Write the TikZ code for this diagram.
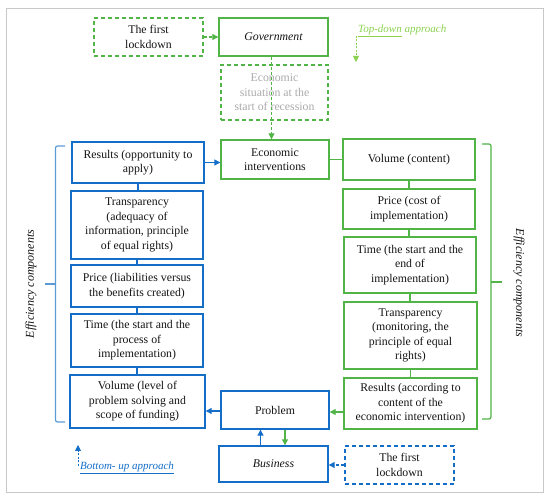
\documentclass[tikz,border=0pt]{standalone}
\usepackage{fontspec}
\setmainfont{Liberation Serif}
\usetikzlibrary{arrows.meta}
\definecolor{gr}{RGB}{80,180,70}
\definecolor{lgr}{RGB}{140,210,80}
\definecolor{bl}{RGB}{20,110,200}
\definecolor{lbl}{RGB}{90,155,215}
\definecolor{frm}{RGB}{200,200,200}
\definecolor{txt}{RGB}{20,20,20}
\definecolor{gtxt}{RGB}{170,170,170}
\tikzset{
  box/.style={draw, line width=1.4pt, align=center, inner sep=1pt, text=txt,
    font=\fontsize{11.8}{14.6}\selectfont},
  gbox/.style={box, draw=gr},
  bbox/.style={box, draw=bl},
  gdbox/.style={box, draw=gr, dashed, dash pattern=on 4pt off 3pt},
  bdbox/.style={box, draw=bl, dashed, dash pattern=on 4pt off 3pt},
  tip/.style={-{Triangle[length=6pt,width=6pt]}},
  link/.style={line width=1.2pt},
  bracket/.style={line width=1.2pt, rounded corners=2pt},
  efftext/.style={font=\fontsize{12}{14}\selectfont\itshape, text=txt},
}
\begin{document}
\begin{tikzpicture}[x=1pt,y=-1pt]
\useasboundingbox (0,0) rectangle (550,502);
\draw[frm, line width=1pt] (6,9) rectangle (543,493);
% top
\node[gdbox, minimum width=109pt, minimum height=38pt] (lock1) at (148.5,37) {The first\\lockdown};
\node[gbox, minimum width=109pt, minimum height=38pt] (gov) at (273.5,37) {\itshape Government};
\node[gdbox, minimum width=107pt, minimum height=55pt, text=gtxt] (sit) at (274.5,92.5) {Economic\\situation at the\\start of recession};
\node[gbox, minimum width=108pt, minimum height=39pt] (econ) at (275,159.5) {Economic\\interventions};
\node[anchor=west, text=lgr, font=\fontsize{11}{12}\selectfont\itshape, inner sep=0pt] (td) at (358,31) {\underline{Top-down} approach};
\coordinate (tdend) at (356,62);
\draw[lgr, line width=0.9pt, dashed, dash pattern=on 2pt off 1.5pt, tip] (td.west |- 0,36) ++(-2,0) coordinate (tds) -- (tds |- tdend);
% right column
\node[gbox, minimum width=132pt, minimum height=41pt] (volR) at (409,159.5) {Volume (content)};
\node[gbox, minimum width=132pt, minimum height=40pt] (priceR) at (409,209) {Price (cost of\\implementation)};
\node[gbox, minimum width=132pt, minimum height=56pt] (timeR) at (410,265) {Time (the start and the\\end of\\implementation)};
\node[gbox, minimum width=133pt, minimum height=67pt] (transR) at (410.5,335.5) {Transparency\\(monitoring, the\\principle of equal\\rights)};
\node[gbox, minimum width=133pt, minimum height=51pt] (resR) at (410.5,403.5) {Results (according to\\content of the\\economic intervention)};
% left column
\node[bbox, minimum width=132pt, minimum height=41pt] (resL) at (138,162.5) {Results (opportunity to\\apply)};
\node[bbox, minimum width=132pt, minimum height=68pt] (transL) at (137,225) {Transparency\\(adequacy of\\information, principle\\of equal rights)};
\node[bbox, minimum width=132pt, minimum height=42pt] (priceL) at (137,286) {Price (liabilities versus\\the benefits created)};
\node[bbox, minimum width=132pt, minimum height=53pt] (timeL) at (137,340.5) {Time (the start and the\\process of\\implementation)};
\node[bbox, minimum width=135pt, minimum height=53pt] (volL) at (137.5,401.5) {Volume (level of\\problem solving and\\scope of funding)};
% bottom
\node[bbox, minimum width=108pt, minimum height=38pt] (prob) at (275,410) {Problem};
\node[bbox, minimum width=109pt, minimum height=36pt] (bus) at (273.5,464) {\itshape Business};
\node[bdbox, minimum width=109pt, minimum height=38pt] (lock2) at (399.5,465) {The first\\lockdown};
\node[anchor=west, text=bl, font=\fontsize{11}{12}\selectfont\itshape, inner sep=0pt] (bu) at (80,468) {\underline{Bottom- up approach}};
\coordinate (buend) at (78,445);
\draw[bl, line width=0.9pt, dashed, dash pattern=on 2pt off 1.5pt, tip] (bu.west) ++(-2,-2) coordinate (bus0) -- (bus0 |- buend);
% connectors top
\draw[gr, link, dashed, dash pattern=on 3pt off 2pt, tip] (lock1.east) -- (gov.west);
\draw[gr, link, dashed, dash pattern=on 3pt off 2pt, tip] ([xshift=-2pt]gov.south) -- ([xshift=-2pt]gov.south |- econ.north);
\draw[bl, link, tip] (resL.east) -- (resL.east -| econ.west);
\draw[gr, link] (econ.east) -- (econ.east -| volR.west);
% column links
\draw[gr, link] (volR.south) -- (volR.south |- priceR.north);
\draw[gr, link] (priceR.south) -- (priceR.south |- timeR.north);
\draw[gr, link] (timeR.south) -- (timeR.south |- transR.north);
\draw[gr, link] (transR.south) -- (transR.south |- resR.north);
\draw[bl, link] (resL.south) -- (resL.south |- transL.north);
\draw[bl, link] (transL.south) -- (transL.south |- priceL.north);
\draw[bl, link] (priceL.south) -- (priceL.south |- timeL.north);
\draw[bl, link] (timeL.south) -- (timeL.south |- volL.north);
% bottom arrows
\draw[gr, link, tip] ([yshift=-2pt]prob.east -| resR.west) -- ([yshift=-2pt]prob.east);
\draw[bl, link, tip] ([yshift=-1pt]prob.west) -- ([yshift=-1pt]prob.west -| volL.east);
\draw[bl, link, tip] ([xshift=-13pt]bus.north) -- ([xshift=-13pt]bus.north |- prob.south);
\draw[gr, link, tip] ([xshift=10pt]prob.south) -- ([xshift=10pt]prob.south |- bus.north);
\draw[bl, link, dashed, dash pattern=on 3pt off 2pt, tip] (lock2.west) -- (lock2.west -| bus.east);
% brackets
\draw[lbl, bracket] (65,146) -- (55.5,146) -- (55.5,422) -- (65,422);
\draw[lbl, bracket] (55.5,284) -- (45,284);
\node[rotate=90, efftext] (effL) at (31,284) {Efficiency components};
\draw[gr, bracket] (482,144) -- (491,144) -- (491,419) -- (482,419);
\draw[gr, bracket] (491,282) -- (502,282);
\node[rotate=-90, efftext] (effR) at (519,283) {Efficiency components};
\end{tikzpicture}
\end{document}
